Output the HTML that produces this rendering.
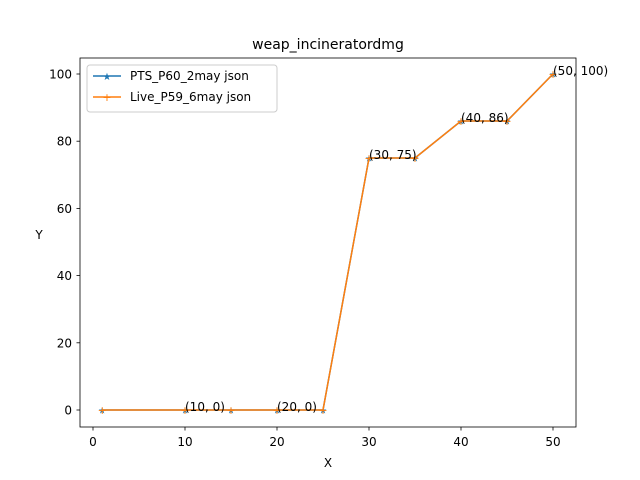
<!DOCTYPE html>
<html><head><meta charset="utf-8"><style>
body{margin:0;background:#fff;}
svg{display:block;font-family:"DejaVu Sans","Liberation Sans",sans-serif;}
</style></head><body>
<svg id="chart" width="640" height="480">
<rect width="640" height="480" fill="#fff"/>
<text x="328" y="49" text-anchor="middle" font-size="14">weap_incineratordmg</text>
<g id="plot"></g>
<rect x="80" y="58" width="496" height="369" fill="none" stroke="#000" stroke-width="0.8"/>
<text x="328" y="467" text-anchor="middle" font-size="12">X</text>
<text x="39" y="239" text-anchor="middle" font-size="12">Y</text>
<g>
<rect x="87" y="65" width="190" height="47" rx="3" fill="#fff" fill-opacity="0.8" stroke="#ccc"/>
<line x1="93" y1="76" x2="121" y2="76" stroke="#1f77b4" stroke-width="1.5"/>
<text x="107" y="80" text-anchor="middle" font-size="10" fill="#1f77b4">★</text>
<text x="130" y="80" font-size="12">PTS_P60_2may json</text>
<line x1="93" y1="97" x2="121" y2="97" stroke="#ff7f0e" stroke-width="1.5"/>
<text x="107" y="101" text-anchor="middle" font-size="11" fill="#ff7f0e">+</text>
<text x="130" y="101" font-size="12">Live_P59_6may json</text>
</g>
</svg>
<script>
const xs=[1,10,15,20,25,30,35,40,45,50];
const ys1=[0,0,0,0,0,75,75,86,86,100];
const ys2=[0,0,0,0,0,75,75,86,86,100];
const xTicks=[0,10,20,30,40,50];
const yTicks=[0,20,40,60,80,100];
const annX=[10,20,30,40,50];
const annY=[0,0,75,86,100];
const NS="http://www.w3.org/2000/svg";
const sx=v=>93+v*9.2, sy=v=>410-v*3.36;
const g=document.getElementById('plot');
function mk(t,a,txt){const e=document.createElementNS(NS,t);for(const k in a)e.setAttribute(k,a[k]);if(txt!==undefined)e.textContent=txt;g.appendChild(e);return e;}
xTicks.forEach(t=>{
 const l=mk('line',{x1:sx(t),x2:sx(t),y1:427,y2:430.5,stroke:'#000','stroke-width':0.8});
 
 
 const s=mk('text',{x:sx(t),y:446,'text-anchor':'middle','font-size':12},t);
 
 
});
yTicks.forEach(t=>{
 const l=mk('line',{x1:76.5,x2:80,y1:sy(t),y2:sy(t),stroke:'#000','stroke-width':0.8});
 
 
 const s=mk('text',{x:72,y:sy(t)+4.5,'text-anchor':'end','font-size':12},t);
 
 
});
function series(ys,color,name,marker){
 const p=mk('polyline',{points:xs.map((x,i)=>sx(x)+','+sy(ys[i])).join(' '),fill:'none',stroke:color,'stroke-width':1.5});
 
 
 xs.forEach((x,i)=>{
  const m=mk('text',{x:sx(x),y:sy(ys[i])+(marker==='★'?3.5:4),'text-anchor':'middle','font-size':marker==='★'?9:11,fill:color},marker);
  
  
 });
}
series(ys1,'#1f77b4','pts-series','★');
series(ys2,'#ff7f0e','live-series','+');
annX.forEach((x,i)=>{
 const a=mk('text',{x:sx(x),y:sy(annY[i])+1,'font-size':12},'('+x+', '+annY[i]+')');
 
 
});
</script>
</body></html>
